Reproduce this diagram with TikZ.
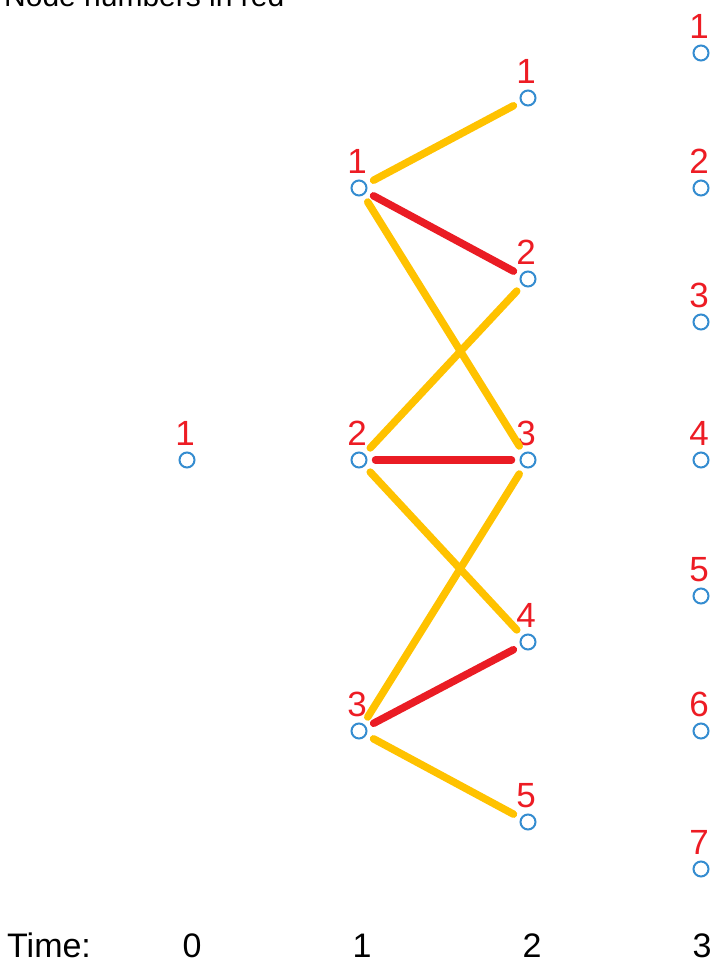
\documentclass[tikz,border=0pt]{standalone}
\usepackage{fontspec}
\setmainfont{Liberation Sans}
\definecolor{nodeblue}{RGB}{52,140,208}
\definecolor{edgeyellow}{RGB}{255,194,0}
\definecolor{edgered}{RGB}{234,28,36}
\definecolor{labred}{RGB}{237,28,36}
\begin{document}
\begin{tikzpicture}[x=1pt,y=-1pt,
  vtx/.style={circle,draw=nodeblue,line width=2pt,minimum size=15pt,inner sep=0pt},
  lab/.style={text=labred,font=\fontsize{35}{35}\selectfont,anchor=base,inner sep=0pt},
  axislab/.style={font=\fontsize{34}{34}\selectfont,anchor=base,inner sep=0pt},
  yel/.style={draw=edgeyellow,line width=7.5pt,line cap=round,shorten <=8pt,shorten >=8pt},
  rd/.style={draw=edgered,line width=7.5pt,line cap=round,shorten <=8pt,shorten >=8pt}]
\clip (0,0) rectangle (713,964);
% title (cut by the top edge)
\node[font=\fontsize{30}{30}\selectfont,anchor=base west,inner sep=0pt] (title) at (4,6) {Node numbers in red};
% time 0
\node[vtx] (t0n1) at (187,460) {};
% time 1
\node[vtx] (t1n1) at (359,188) {};
\node[vtx] (t1n2) at (359,460) {};
\node[vtx] (t1n3) at (359,731) {};
% time 2
\node[vtx] (t2n1) at (528,98) {};
\node[vtx] (t2n2) at (528,279) {};
\node[vtx] (t2n3) at (528,460) {};
\node[vtx] (t2n4) at (528,642) {};
\node[vtx] (t2n5) at (528,822) {};
% time 3
\node[vtx] (t3n1) at (701,53) {};
\node[vtx] (t3n2) at (701,188) {};
\node[vtx] (t3n3) at (701,322) {};
\node[vtx] (t3n4) at (701,460) {};
\node[vtx] (t3n5) at (701,596) {};
\node[vtx] (t3n6) at (701,731) {};
\node[vtx] (t3n7) at (701,869) {};
% labels
\foreach \n/\k in {t0n1/1,t1n1/1,t1n2/2,t1n3/3,t2n1/1,t2n2/2,t2n3/3,t2n4/4,t2n5/5,t3n1/1,t3n2/2,t3n3/3,t3n4/4,t3n5/5,t3n6/6,t3n7/7}
  \node[lab] (lab-\n) at ([xshift=-2pt,yshift=15pt]\n.center) {\k};
% edges
\draw[yel] (t1n1) -- (t2n1);
\draw[yel] (t1n1) -- (t2n3);
\draw[yel] (t1n2) -- (t2n2);
\draw[yel] (t1n2) -- (t2n4);
\draw[yel] (t1n3) -- (t2n3);
\draw[yel] (t1n3) -- (t2n5);
\draw[rd] (t1n1) -- (t2n2);
\draw[rd] (t1n2) -- (t2n3);
\draw[rd] (t1n3) -- (t2n4);
% time axis
\node[axislab,anchor=base west] (timelab) at (7,957) {Time:};
\node[axislab] (ax0) at (192,957) {0};
\node[axislab] (ax1) at (362,957) {1};
\node[axislab] (ax2) at (532,957) {2};
\node[axislab] (ax3) at (702,957) {3};
\end{tikzpicture}
\end{document}
